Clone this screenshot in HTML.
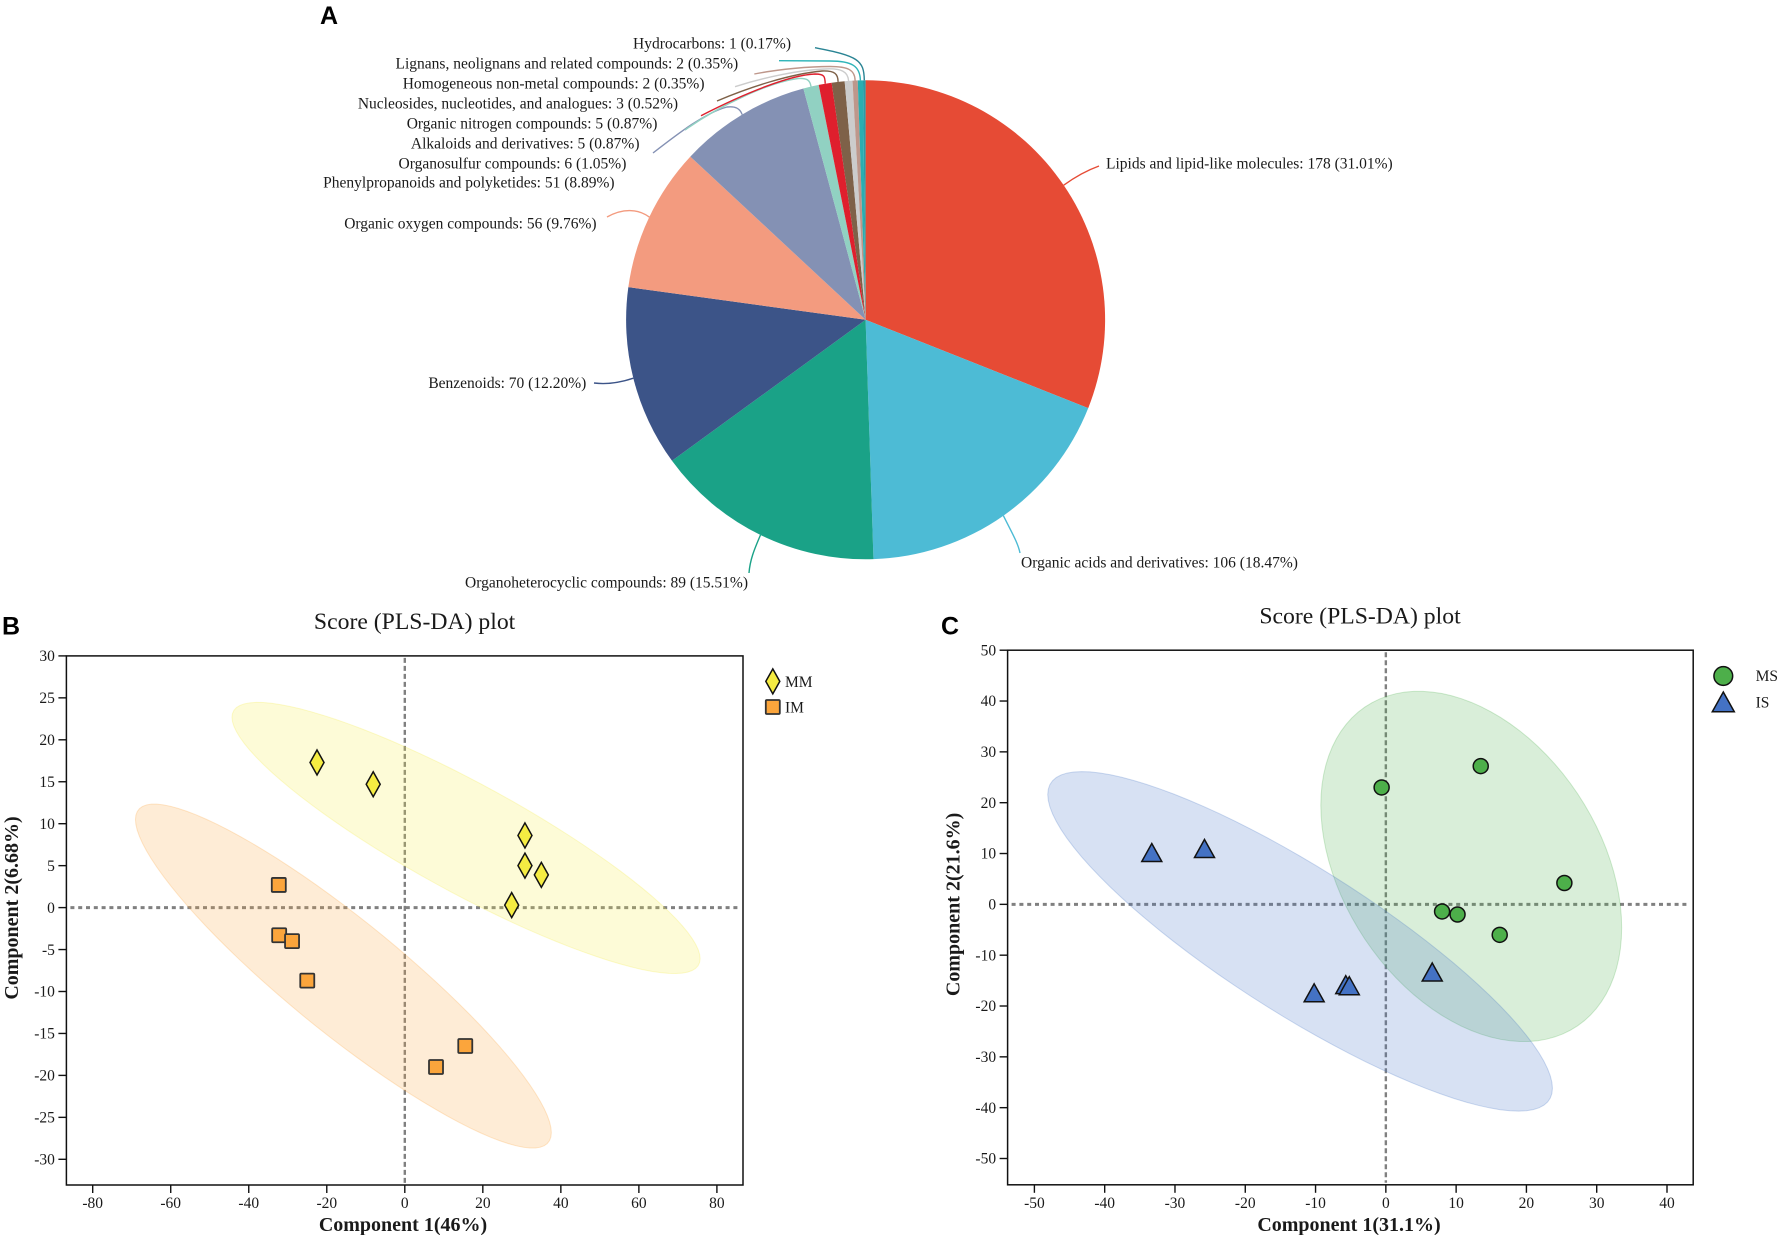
<!DOCTYPE html>
<html lang="en">
<head>
<meta charset="utf-8">
<title>Metabolite classes and PLS-DA score plots</title>
<style>
html,body{margin:0;padding:0;background:#fff;width:1778px;height:1235px;overflow:hidden}
svg{display:block;filter:blur(0.35px)}
text{font-family:"Liberation Serif",serif;fill:#1a1a1a}
.panel-letter{font-family:"Liberation Sans",sans-serif;font-weight:700;font-size:25px;fill:#000}
</style>
</head>
<body>
<svg id="figure" xmlns="http://www.w3.org/2000/svg" width="1778" height="1235" viewBox="0 0 1778 1235">
  <rect width="1778" height="1235" fill="#fff"/>
  <text class="panel-letter" x="320" y="24">A</text>
  <text class="panel-letter" x="2" y="634.5">B</text>
  <text class="panel-letter" x="941" y="634.5">C</text>
  <g id="pie"></g>
  <g id="plotB"></g>
  <g id="plotC"></g>
</svg>
<script>
// ---- Pie data ----
const pieCategories = ["Lipids and lipid-like molecules","Organic acids and derivatives","Organoheterocyclic compounds","Benzenoids","Organic oxygen compounds","Phenylpropanoids and polyketides","Organosulfur compounds","Alkaloids and derivatives","Organic nitrogen compounds","Nucleosides, nucleotides, and analogues","Homogeneous non-metal compounds","Lignans, neolignans and related compounds","Hydrocarbons"];
const pieCounts = [178,106,89,70,56,51,6,5,5,3,2,2,1];

// ---- Panel B data ----
const mmX = [-22.5,-8.1,30.8,30.8,35,27.4];
const mmY = [17.3,14.7,8.6,5,3.9,0.3];
const imX = [-32.3,-32.2,-28.9,-25,15.5,8];
const imY = [2.7,-3.3,-4,-8.7,-16.5,-19];
const ellipseMM = [15.7,8.3,60,16.16,-0.89];   // centre x, centre y, half-width, half-height, correlation
const ellipseIM = [-15.74,-8.16,53.3,20.5,-0.91];
const xTicksB = [-80,-60,-40,-20,0,20,40,60,80];
const yTicksB = [30,25,20,15,10,5,0,-5,-10,-15,-20,-25,-30];

// ---- Panel C data ----
const msX = [-0.6,13.5,25.4,8,10.2,16.2];
const msY = [23,27.2,4.2,-1.4,-2,-6];
const isX = [-33.3,-25.8,6.6,-5.7,-5.2,-10.2];
const isY = [10,10.8,-13.5,-16,-16.2,-17.6];
const ellipseMS = [12.15,7.46,21.4,34.46,-0.35];
const ellipseIS = [-12.2,-7.28,35.9,33.4,-0.865];
const xTicksC = [-50,-40,-30,-20,-10,0,10,20,30,40];
const yTicksC = [50,40,30,20,10,0,-10,-20,-30,-40,-50];

// ---- Layout and styling (not data) ----
const sliceColors = ["#E64B35","#4DBBD5","#1AA287","#3C5488","#F39B7F","#8491B4","#91D1C2","#DF1F2D","#7E6148","#CCCCCC","#BE978B","#2AAEB0","#2A9CA6"];
const leaderColors = ["#E64B35","#4DBBD5","#1AA287","#3C5488","#F39B7F","#8491B4","#91D1C2","#DF1F2D","#7E6148","#CCCCCC","#BE978B","#2FB4B8","#2A8494"];
const pieGeom = {cx:865.6, cy:319.8, r:239.5};
const labelAnchors = [
  [1106,168.3,"start"],[1021,567.7,"start"],[748,587.3,"end"],[586.3,388,"end"],[596.6,228.3,"end"],[614.6,187.7,"end"],
  [626.4,168.3,"end"],[639.5,148.3,"end"],[657.4,128.3,"end"],[678.1,108.3,"end"],[704.5,88.3,"end"],[738.2,68.3,"end"],[791,48.7,"end"]
];
const leaderTails = [
  "C 1075,177 1088,170 1099,166",
  "C 1012,533 1018,543 1020,553",
  "C 754,550 750,560 749,573",
  "C 625,381 610,385 594,383",
  "C 640,210 625,207 607,217",
  "C 740,108 735,106 727,107 C 705,113 680,132 653,153",
  "C 810,80 807,78 798,78.5 C 770,82 720,105 685,130",
  "C 825,77 825,74 815,74 C 790,75 745,93 701,115.7",
  "C 838,74 835,70.5 822,71 C 790,74 750,87 717,101",
  "C 848,72 842,68 825,69 C 800,70 765,77 735,86.7",
  "C 855,70 848,66.5 830,66.5 C 810,66.5 780,69 754.3,74",
  "C 860,66 852,61 830,61 L 779,60.7",
  "C 864,60 858,56 815,47.7"
];

const NS = "http://www.w3.org/2000/svg";
function add(parent, tag, attrs, text) {
  const node = document.createElementNS(NS, tag);
  for (const k in attrs) node.setAttribute(k, attrs[k]);
  if (text !== undefined) node.textContent = text;
  parent.appendChild(node);
  return node;
}
function linear(d0, d1, r0, r1) {
  return function (v) { return r0 + (v - d0) * (r1 - r0) / (d1 - d0); };
}
function slug(s) {
  return s.toLowerCase().replace(/[^a-z0-9]+/g, '-').replace(/^-|-$/g, '');
}

// ---- Draw pie ----
(function () {
  const g = document.getElementById('pie');
  const total = pieCounts.reduce(function (a, b) { return a + b; }, 0);
  const angle = linear(0, total, 0, Math.PI * 2);
  const at = function (value) {
    const t = angle(value);
    return [pieGeom.cx + pieGeom.r * Math.sin(t), pieGeom.cy - pieGeom.r * Math.cos(t)];
  };
  let cum = 0;
  pieCounts.forEach(function (c, i) {
    const a = at(cum), b = at(cum + c), mid = at(cum + c / 2);
    const large = c / total > 0.5 ? 1 : 0;
    const slice = add(g, 'path', {
      d: 'M' + pieGeom.cx + ',' + pieGeom.cy + ' L' + a[0] + ',' + a[1] + ' A' + pieGeom.r + ',' + pieGeom.r + ' 0 ' + large + ' 1 ' + b[0] + ',' + b[1] + ' Z',
      fill: sliceColors[i]
    });
    
    
    const leader = add(g, 'path', {
      d: 'M' + mid[0].toFixed(1) + ',' + mid[1].toFixed(1) + ' ' + leaderTails[i],
      fill: 'none', stroke: leaderColors[i], 'stroke-width': 1.4
    });
    
    
    const pos = labelAnchors[i];
    const pct = (c / total * 100).toFixed(2);
    const label = add(g, 'text', {x: pos[0], y: pos[1], 'text-anchor': pos[2], 'font-size': 15.5}, pieCategories[i] + ': ' + c + ' (' + pct + '%)');
    
    
    cum += c;
  });
})();

// ---- Shared scatter helpers ----
function ellipsePath(e, sx, sy) {
  const rho = e[4], q = Math.sqrt(1 - rho * rho);
  let d = '';
  for (let k = 0; k < 96; k++) {
    const t = k / 96 * Math.PI * 2;
    const x = e[0] + e[2] * Math.cos(t);
    const y = e[1] + e[3] * (rho * Math.cos(t) + q * Math.sin(t));
    d += (k ? 'L' : 'M') + sx(x).toFixed(2) + ',' + sy(y).toFixed(2);
  }
  return d + 'Z';
}
function marker(parent, kind, x, y, fill, scale) {
  const st = {fill: fill, stroke: '#111', 'stroke-width': 1.5};
  if (kind === 'diamond') {
    st.points = x + ',' + (y - 12.5) + ' ' + (x + 7) + ',' + y + ' ' + x + ',' + (y + 12.5) + ' ' + (x - 7) + ',' + y;
    return add(parent, 'polygon', st);
  }
  if (kind === 'square') {
    st.x = x - 7; st.y = y - 7; st.width = 14; st.height = 14; st.rx = 1; st.stroke = '#333'; st['stroke-width'] = 1.8;
    return add(parent, 'rect', st);
  }
  if (kind === 'circle') {
    st.cx = x; st.cy = y; st.r = 7.5 * scale;
    return add(parent, 'circle', st);
  }
  st.points = x + ',' + (y - 10 * scale) + ' ' + (x + 10 * scale) + ',' + (y + 8 * scale) + ' ' + (x - 10 * scale) + ',' + (y + 8 * scale);
  return add(parent, 'polygon', st);
}
function drawPlot(cfg) {
  const g = document.getElementById(cfg.id);
  const sx = cfg.sx, sy = cfg.sy, b = cfg.box;

  const xl = add(g, 'line', {x1: b.l + 4, x2: b.r - 3, y1: sy(0), y2: sy(0), stroke: '#808080', 'stroke-width': 3, 'stroke-dasharray': '4 3.8'});
  
  
  const yl = add(g, 'line', {x1: sx(0), x2: sx(0), y1: b.t + 2, y2: b.b - 2, stroke: '#808080', 'stroke-width': 2.4, 'stroke-dasharray': '5 3'});
  
  

  cfg.groups.forEach(function (s) {
    const el = add(g, 'path', {d: ellipsePath(s.ellipse, sx, sy), fill: s.fill, 'fill-opacity': 0.21, stroke: s.fill, 'stroke-opacity': 0.25, 'stroke-width': 1});
    
    
  });

  const frame = add(g, 'rect', {x: b.l, y: b.t, width: b.r - b.l, height: b.b - b.t, fill: 'none', stroke: '#111', 'stroke-width': 1.5});
  
  

  cfg.xTicks.forEach(function (v) {
    const t = add(g, 'line', {x1: sx(v), x2: sx(v), y1: b.b, y2: b.b + 8, stroke: '#111', 'stroke-width': 1.4});
    
    
    const l = add(g, 'text', {x: sx(v), y: 1208, 'text-anchor': 'middle', 'font-size': 15.5}, String(v));
    
    
  });
  cfg.yTicks.forEach(function (v) {
    const t = add(g, 'line', {x1: b.l - 8, x2: b.l, y1: sy(v), y2: sy(v), stroke: '#111', 'stroke-width': 1.4});
    
    
    const l = add(g, 'text', {x: b.l - 11.5, y: sy(v) + 5.2, 'text-anchor': 'end', 'font-size': 15.5}, String(v));
    
    
  });

  cfg.groups.forEach(function (s) {
    s.xs.forEach(function (v, i) {
      const m = marker(g, s.kind, sx(v), sy(s.ys[i]), s.fill, 1);
      
      
    });
    const lm = marker(g, s.kind, s.legend[0], s.legend[1], s.fill, s.legendScale);
    
    
    const lt = add(g, 'text', {x: s.legend[2], y: s.legend[3], 'font-size': 15.5}, s.name);
    
    
  });

  const title = add(g, 'text', {x: cfg.title[1], y: cfg.title[2], 'text-anchor': 'middle', 'font-size': 23.7}, cfg.title[0]);
  
  
  const xt = add(g, 'text', {x: cfg.xTitle[1], y: 1231, 'text-anchor': 'middle', 'font-size': 20, 'font-weight': 700}, cfg.xTitle[0]);
  
  
  const yt = add(g, 'text', {transform: 'translate(' + cfg.yTitle[1] + ',' + cfg.yTitle[2] + ') rotate(-90)', 'text-anchor': 'middle', 'font-size': 20, 'font-weight': 700}, cfg.yTitle[0]);
  
  
}

// ---- Panel B ----
drawPlot({
  id: 'plotB',
  sx: linear(-80, 80, 92.7, 716.9),
  sy: linear(30, -30, 655.9, 1159.3),
  box: {l: 66.4, r: 743, t: 655.9, b: 1185},
  xTicks: xTicksB, yTicks: yTicksB,
  title: ['Score (PLS-DA) plot', 414.6, 629],
  xTitle: ['Component 1(46%)', 403],
  yTitle: ['Component 2(6.68%)', 18, 908],
  groups: [
    {name: 'MM', kind: 'diamond', fill: '#F5EC42', xs: mmX, ys: mmY, ellipse: ellipseMM, legend: [772.8, 681.4, 785, 687], legendScale: 1},
    {name: 'IM', kind: 'square', fill: '#FBA53C', xs: imX, ys: imY, ellipse: ellipseIM, legend: [772.8, 707, 785, 712.6], legendScale: 1}
  ]
});

// ---- Panel C ----
drawPlot({
  id: 'plotC',
  sx: linear(-50, 40, 1034.4, 1667),
  sy: linear(50, -50, 650.2, 1158.5),
  box: {l: 1007.6, r: 1693.2, t: 650.2, b: 1184.8},
  xTicks: xTicksC, yTicks: yTicksC,
  title: ['Score (PLS-DA) plot', 1360, 623.5],
  xTitle: ['Component 1(31.1%)', 1349],
  yTitle: ['Component 2(21.6%)', 959.4, 904.4],
  groups: [
    {name: 'MS', kind: 'circle', fill: '#4DAF4A', xs: msX, ys: msY, ellipse: ellipseMS, legend: [1723.3, 676, 1755.6, 681], legendScale: 1.25},
    {name: 'IS', kind: 'triangle', fill: '#4472C4', xs: isX, ys: isY, ellipse: ellipseIS, legend: [1723.3, 703, 1755.6, 707.3], legendScale: 1.1}
  ]
});
</script>
</body>
</html>
